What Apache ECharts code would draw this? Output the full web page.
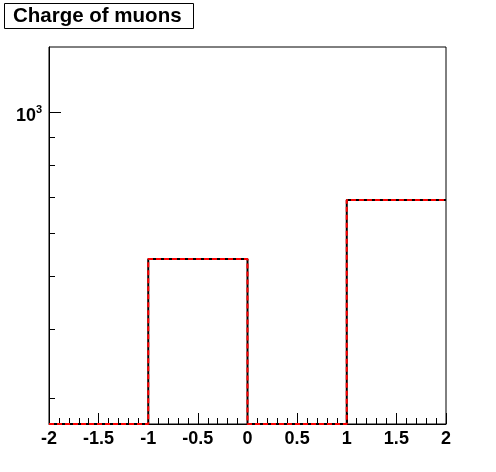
<!DOCTYPE html>
<html>
<head>
<meta charset="utf-8">
<script src="https://cdn.jsdelivr.net/npm/echarts@6/dist/echarts.min.js"></script>
<style>html,body{margin:0;padding:0;background:#fff}#c{width:496px;height:472px}</style>
</head>
<body>
<div id="c"></div>
<script>
// Data
const titleText = 'Charge of muons';
const binEdges = [-2, -1, 0, 1, 2];
const binCounts = [0, 538, 0, 690];
const xTickLabels = ['-2', '-1.5', '-1', '-0.5', '0', '0.5', '1', '1.5', '2'];
const yTickValues = [300, 400, 500, 600, 700, 800, 900, 1000];
const yMajorTicks = [1000];
const yMin = 268.3, yMax = 1315;
const xMin = -2, xMax = 2;

const FONT = '"Liberation Sans", Arial, sans-serif';

// histogram step points (zero bins clamped to axis minimum, as on a log axis)
const stepData = [];
for (let i = 0; i < binCounts.length; i++) {
  stepData.push([binEdges[i], Math.max(binCounts[i], yMin)]);
}
stepData.push([binEdges[binEdges.length - 1], Math.max(binCounts[binCounts.length - 1], yMin)]);

const chart = echarts.init(document.getElementById('c'), null, {renderer: 'canvas'});
chart.setOption({
  animation: false,
  backgroundColor: '#fff',
  grid: {left: 49, right: 50, top: 47, bottom: 48, show: true, borderColor: '#000', borderWidth: 1, backgroundColor: 'transparent'},
  graphic: [
    {type: 'rect', shape: {x: 4.5, y: 3.5, width: 189, height: 25}, style: {fill: '#fff', stroke: '#000', lineWidth: 1}},
    {type: 'text', x: 13, y: 16.5, style: {text: titleText, font: 'bold 20.5px ' + FONT, fill: '#000', verticalAlign: 'middle', align: 'left'}}
  ],
  xAxis: {
    type: 'value', min: xMin, max: xMax, interval: 0.5,
    axisLine: {show: true, onZero: false, lineStyle: {color: '#000', width: 1}},
    axisTick: {show: true, inside: true, length: 11, lineStyle: {color: '#000', width: 1}},
    minorTick: {show: true, splitNumber: 5, length: 6, lineStyle: {color: '#000', width: 1}},
    splitLine: {show: false},
    axisLabel: {
      show: true, margin: 6, color: '#000', fontFamily: FONT, fontWeight: 'bold', fontSize: 18,
      formatter: function (v) { const i = Math.round((v - xMin) / 0.5); return xTickLabels[i] !== undefined ? xTickLabels[i] : ''; }
    }
  },
  yAxis: {
    type: 'log', logBase: 10, min: yMin, max: yMax,
    axisLine: {show: true, onZero: false, lineStyle: {color: '#000', width: 1}},
    axisTick: {show: false}, axisLabel: {show: false}, splitLine: {show: false}, minorTick: {show: false}
  },
  series: [
    {
      type: 'custom', coordinateSystem: 'cartesian2d', clip: false, silent: true, z: 5,
      data: yTickValues.map(v => [xMin, v]),
      renderItem: function (params, api) {
        const v = api.value(1);
        const p = api.coord([xMin, v]);
        const major = yMajorTicks.indexOf(v) >= 0;
        const y = Math.round(p[1]) + 0.5;
        const children = [{type: 'line', shape: {x1: p[0], y1: y, x2: p[0] + (major ? 12 : 6), y2: y}, style: {stroke: '#000', lineWidth: 1}}];
        if (major) {
          const exp = Math.round(Math.log10(v));
          children.push({type: 'text', style: {text: '10', x: p[0] - 13, y: p[1] + 4, align: 'right', verticalAlign: 'middle', font: 'bold 18px ' + FONT, fill: '#000'}});
          children.push({type: 'text', style: {text: String(exp), x: p[0] - 13, y: p[1] - 2, align: 'left', verticalAlign: 'middle', font: 'bold 11px ' + FONT, fill: '#000'}});
        }
        return {type: 'group', children: children};
      }
    },
    {
      type: 'line', data: stepData, step: 'end', symbol: 'none', clip: false, z: 3,
      lineStyle: {color: '#000', width: 2, type: 'solid'}
    },
    {
      type: 'line', data: stepData, step: 'end', symbol: 'none', clip: false, z: 4,
      lineStyle: {color: '#ff0000', width: 2, type: [5, 3]}
    }
  ]
});
</script>
</body>
</html>
